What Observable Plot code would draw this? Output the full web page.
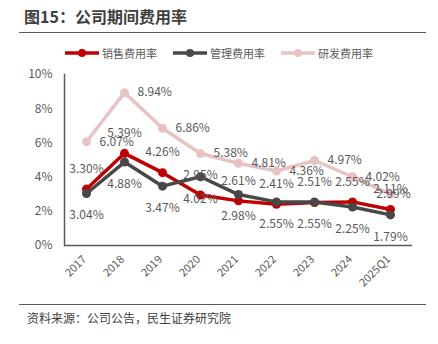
<!DOCTYPE html>
<html><head><meta charset="utf-8">
<script src="https://cdn.jsdelivr.net/npm/d3@7"></script>
<script src="https://cdn.jsdelivr.net/npm/@observablehq/plot@0.6"></script>
<style>
body{margin:0;background:#fff;font-family:"Noto Sans CJK SC","Noto Sans",sans-serif;}
#wrap{position:relative;width:438px;height:344px;overflow:hidden;background:#fff;}
#title{position:absolute;left:24px;top:5px;font-size:16px;font-weight:bold;color:#404040;line-height:22px;}
.hr{position:absolute;left:19px;width:407px;height:0;border-top:1.5px solid #595959;}
#legend{position:absolute;left:0;width:438px;top:45px;display:flex;justify-content:center;gap:16px;font-size:11px;color:#595959;line-height:16px;}
.item{display:flex;align-items:center;gap:3px;}
#chart{position:absolute;left:0;top:60px;}
#source{position:absolute;left:27px;top:309px;font-size:12px;color:#404040;line-height:18px;}
</style></head>
<body><div id="wrap">
<div id="title">图15：公司期间费用率</div>
<div class="hr" style="top:32px"></div>
<div id="legend"></div>
<div id="chart"></div>
<div class="hr" style="top:304px"></div>
<div id="source">资料来源：公司公告，民生证券研究院</div>
</div>
<script>
const categories = ["2017","2018","2019","2020","2021","2022","2023","2024","2025Q1"];
const sales = [3.30,5.39,4.26,2.95,2.61,2.41,2.51,2.55,2.11];
const admin = [3.04,4.88,3.47,4.02,2.98,2.55,2.55,2.25,1.79];
const rnd = [6.07,8.94,6.86,5.38,4.81,4.36,4.97,4.02,2.99];
const seriesNames = ["销售费用率","管理费用率","研发费用率"];
const seriesColors = ["#C00000","#484848","#E8C3C3"];
const yTicks = [0,2,4,6,8,10];

const rows = [];
[sales, admin, rnd].forEach((vals, s) => vals.forEach((v, i) => rows.push({cat: categories[i], s: seriesNames[s], v, i})));
const bySeries = name => rows.filter(d => d.s === name);

// legend
const legend = document.getElementById("legend");
seriesNames.forEach((n, k) => {
  const it = document.createElement("div"); it.className = "item";
  it.innerHTML = `<svg width="34" height="10"><line x1="0" x2="34" y1="5" y2="5" stroke="${seriesColors[k]}" stroke-width="3.5"/><circle cx="17" cy="5" r="4" fill="${seriesColors[k]}"/></svg><span>${n}</span>`;
  legend.appendChild(it);
});

const color = {domain: seriesNames, range: seriesColors};
const [S, A, R] = seriesNames;
const lastCat = categories[categories.length - 1];

const chart = Plot.plot({
  width: 438, height: 240,
  marginLeft: 64, marginRight: 26, marginTop: 14, marginBottom: 55,
  style: {fontFamily: '"Noto Sans CJK SC","Noto Sans",sans-serif', fontSize: "12px", color: "#595959", background: "transparent"},
  x: {type: "point", domain: categories, padding: 0.5},
  y: {domain: [0, 10]},
  color,
  marks: [
    Plot.axisY({ticks: yTicks, tickFormat: d => d + "%", tickSize: 0, tickPadding: 12, label: null, fontSize: 12, fill: "#595959"}),
    Plot.axisX({tickRotate: -45, tickSize: 0, tickPadding: 12, dx: -2, label: null, fontSize: 11, fill: "#595959"}),
    Plot.frame({anchor: "left", stroke: "#595959", strokeWidth: 1.5}),
    Plot.ruleY([0], {stroke: "#595959", strokeWidth: 1.5}),
    Plot.line(bySeries(R), {x: "cat", y: "v", stroke: "s", strokeWidth: 3.5}),
    Plot.dot(bySeries(R), {x: "cat", y: "v", fill: "s", r: 4.5}),
    Plot.line(bySeries(S), {x: "cat", y: "v", stroke: "s", strokeWidth: 3.5}),
    Plot.dot(bySeries(S), {x: "cat", y: "v", fill: "s", r: 4.5}),
    Plot.line(bySeries(A), {x: "cat", y: "v", stroke: "s", strokeWidth: 3.5}),
    Plot.dot(bySeries(A), {x: "cat", y: "v", fill: "s", r: 4.5}),
    Plot.text(bySeries(R).filter(d => d.cat !== lastCat), {x: "cat", y: "v", text: d => d.v.toFixed(2) + "%", dx: 13, textAnchor: "start", fill: "#595959", fontSize: 12}),
    Plot.text(bySeries(R).filter(d => d.cat === lastCat), {x: "cat", y: "v", text: d => d.v.toFixed(2) + "%", dx: 3, fill: "#595959", fontSize: 12}),
    Plot.text(bySeries(S), {x: "cat", y: "v", text: d => d.v.toFixed(2) + "%", dy: -20, fill: "#595959", fontSize: 12}),
    Plot.text(bySeries(A), {x: "cat", y: "v", text: d => d.v.toFixed(2) + "%", dy: 22, fill: "#595959", fontSize: 12})
  ]
});
document.getElementById("chart").appendChild(chart);
</script>
</body></html>
